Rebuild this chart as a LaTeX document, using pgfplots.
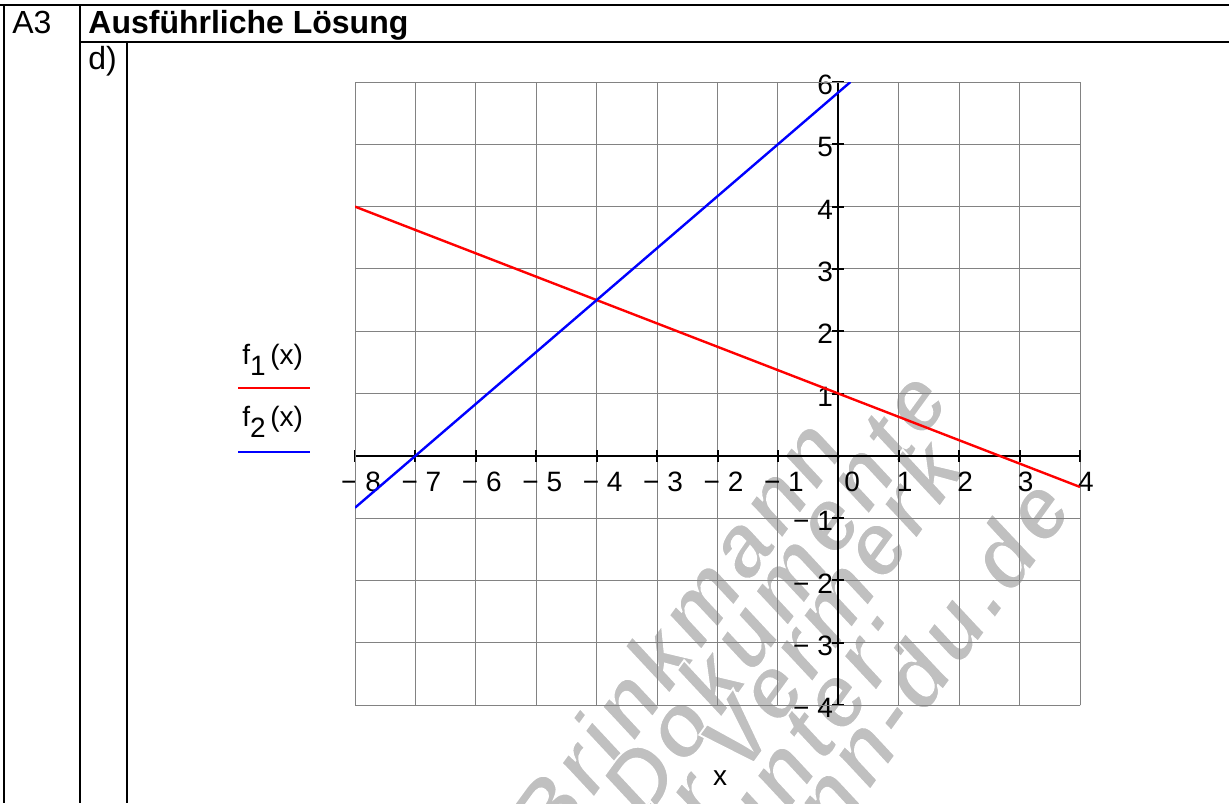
\documentclass[border=0pt]{standalone}
\usepackage{fontspec}
\setmainfont{Liberation Sans}
\usepackage{pgfplots}
\pgfplotsset{compat=1.18}
\definecolor{gridgray}{RGB}{130,130,130}
\definecolor{wmgray}{RGB}{192,192,192}
% outlined watermark text: gray fill with a thin white stroke
\newcommand\outlined[1]{\special{pdf:literal direct 2 Tr 1 1 1 RG 0.9 w}#1\special{pdf:literal direct 0 Tr}}
\begin{document}
\begin{tikzpicture}
\useasboundingbox (0,0) rectangle (614.5pt,-401.5pt);
% watermark behind everything
\begin{scope}[x=0.5pt,y=-0.5pt]
  \clip (0,0) rectangle (1229,803);
  \begin{scope}[every node/.style={text=wmgray, rotate=54, anchor=base east, inner sep=0pt,
      font=\fontsize{44}{44}\selectfont\bfseries\itshape\addfontfeatures{LetterSpace=6}}]
    \node at (848,448) {\outlined{H. Brinkmann}};
    \node at (952,400) {\outlined{Dokumente}};
    \node at (968,468) {\outlined{für Vermerk}};
    \node at (916,636) {\outlined{nur unter:}};
    \node at (1075,508) {\outlined{www.brinkmann-du.de}};
  \end{scope}
\end{scope}
\begin{axis}[
  at={(177.5pt,-352.5pt)}, anchor=south west,
  scale only axis, width=362.5pt, height=311.5pt,
  xmin=-8, xmax=4, ymin=-4, ymax=6,
  axis lines=middle,
  axis line style={black, line width=1pt, -},
  hide obscured x ticks=false, hide obscured y ticks=false,
  xtick={-8,-7,-6,-5,-4,-3,-2,-1,0,1,2,3,4},
  ytick={-4,-3,-2,-1,1,2,3,4,5,6},
  xticklabels={− 8,− 7,− 6,− 5,− 4,− 3,− 2,− 1,\hphantom{0}0,1,2,3,4},
  yticklabels={− 4,− 3,− 2,− 1,1,2,3,4,5,6},
  grid=major, grid style={gridgray, line width=0.5pt},
  major tick length=6pt, tick align=center,
  tick style={black, line width=1pt},
  xticklabel shift=0pt, yticklabel shift=0pt,
  xticklabel style={font=\fontsize{14}{16}\selectfont, anchor=north, inner sep=0pt, yshift=-5pt, xshift=3pt},
  yticklabel style={font=\fontsize{14}{16}\selectfont, anchor=east, inner sep=0pt, xshift=0.5pt, yshift=-1.5pt},
]
  \draw[gridgray, line width=0.5pt] (rel axis cs:0,0) rectangle (rel axis cs:1,1);
  % f1(x) = -3/8 x + 1
  \addplot[red, line width=1.2pt] coordinates {(-8,4) (4,-0.5)};
  % f2(x) = 5/6 (x + 7)
  \addplot[blue, line width=1.2pt] coordinates {(-8,-0.8333) (0.2,6)};
\end{axis}
\begin{scope}[x=0.5pt,y=-0.5pt]
  % table frame
  \draw[line width=1pt] (0,5) -- (1229,5);
  \draw[line width=1pt] (4,5) -- (4,803);
  \draw[line width=1pt] (80,5) -- (80,803);
  \draw[line width=1pt] (80,42) -- (1229,42);
  \draw[line width=1pt] (127,42) -- (127,803);
  \node[anchor=base west, inner sep=0pt, font=\fontsize{16}{18}\selectfont] at (12,33) {A3};
  \node[anchor=base west, inner sep=0pt, font=\fontsize{16}{18}\selectfont\bfseries] at (88,33) {Ausführliche Lösung};
  \node[anchor=base west, inner sep=0pt, font=\fontsize{16}{18}\selectfont] at (88,69) {d)};
  % legend
  \node[anchor=base west, inner sep=0pt, font=\fontsize{14}{16}\selectfont] at (242,364) {f\raisebox{-0.4em}{1}\,(x)};
  \draw[red, line width=1.2pt] (238,388) -- (310,388);
  \node[anchor=base west, inner sep=0pt, font=\fontsize{14}{16}\selectfont] at (242,426) {f\raisebox{-0.4em}{2}\,(x)};
  \draw[blue, line width=1.2pt] (238,452) -- (310,452);
  % axis label
  \node[anchor=base, inner sep=0pt, font=\fontsize{14}{16}\selectfont] at (720,785) {x};
\end{scope}
\end{tikzpicture}
\end{document}
